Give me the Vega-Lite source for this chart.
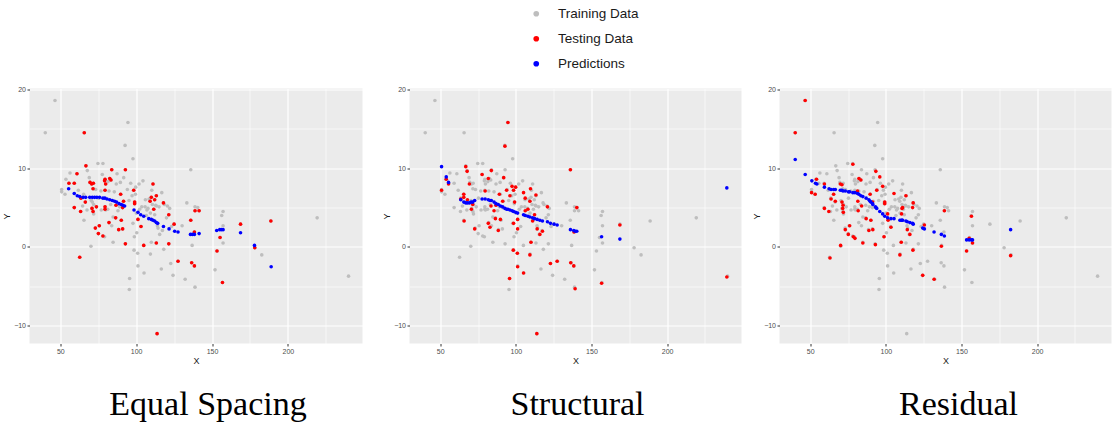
{
  "$schema": "https://vega.github.io/schema/vega-lite/v6.json",
  "padding": {"left": 2.5, "top": 6.5, "right": 0, "bottom": 0},
  "config": {
    "view": {"fill": "#ebebeb", "stroke": null},
    "axis": {"domain": false, "grid": true, "gridColor": "#ffffff", "tickColor": "#333333", "labelColor": "#4d4d4d", "labelFont": "Liberation Sans", "labelFontSize": 7, "labelPadding": 1.5, "labelOverlap": false, "titleFont": "Liberation Sans", "titleFontSize": 9, "titleFontWeight": "normal", "titleColor": "#1a1a1a", "titlePadding": 2},
    "axisX": {
      "labelExpr": "datum.value % 50 === 0 ? datum.label : ''",
      "gridWidth": {"condition": {"test": "datum.value % 50 !== 0", "value": 0.6}, "value": 1.2},
      "tickSize": {"condition": {"test": "datum.value % 50 !== 0", "value": 0}, "value": 2.5}
    },
    "axisY": {
      "labelExpr": "datum.value % 10 === 0 ? datum.label : ''",
      "gridWidth": {"condition": {"test": "datum.value % 10 !== 0", "value": 0.6}, "value": 1.2},
      "tickSize": {"condition": {"test": "datum.value % 10 !== 0", "value": 0}, "value": 2.5}
    },
    "title": {"font": "Liberation Serif", "fontSize": 34, "fontWeight": "normal", "color": "#000000", "orient": "bottom", "frame": "group", "offset": 22}
  },
  "datasets": {
    "cloud": [
      {"x":40.1,"y":14.5},{"x":46.5,"y":18.6},{"x":50.9,"y":7.3},{"x":50.9,"y":7.0},{"x":53.1,"y":6.7},{"x":53.7,"y":8.6},{"x":56.4,"y":9.4},{"x":64.7,"y":5.2},{"x":65.6,"y":3.4},{"x":67.8,"y":9.7},{"x":69.1,"y":8.8},{"x":70.2,"y":0.1},{"x":71.1,"y":5.7},{"x":72,"y":4.2},{"x":74.8,"y":10.6},{"x":78.1,"y":10.6},{"x":77.7,"y":9.2},{"x":79.2,"y":1.3},{"x":82.1,"y":7.1},{"x":83.9,"y":2.7},{"x":84.8,"y":0.6},{"x":86.9,"y":8.0},{"x":89.6,"y":8.2},{"x":91.8,"y":8.8},{"x":92.7,"y":12.9},{"x":94.6,"y":15.8},{"x":95.7,"y":-4.0},{"x":95.5,"y":-5.4},{"x":97.9,"y":11.2},{"x":98.6,"y":-0.4},{"x":98.8,"y":1.3},{"x":99.7,"y":7.6},{"x":100.4,"y":1.8},{"x":101.0,"y":-0.8},{"x":101.2,"y":-2.4},{"x":101.9,"y":8.0},{"x":104.5,"y":8.4},{"x":105.2,"y":-3.3},{"x":106.1,"y":6.0},{"x":107.1,"y":4.7},{"x":109.4,"y":-0.9},{"x":110,"y":0.6},{"x":111.1,"y":3.4},{"x":112.2,"y":4.1},{"x":113.3,"y":5.2},{"x":116.9,"y":6.9},{"x":116.6,"y":-2.8},{"x":118.2,"y":-0.3},{"x":120.6,"y":5.2},{"x":122.1,"y":4.9},{"x":122.8,"y":-2.1},{"x":124.3,"y":-3.6},{"x":130.3,"y":2.7},{"x":132.3,"y":-4.1},{"x":133.4,"y":5.6},{"x":136.0,"y":9.8},{"x":136.9,"y":0.2},{"x":138.8,"y":5.1},{"x":138.8,"y":-5.1},{"x":140.6,"y":5.0},{"x":152.0,"y":-2.9},{"x":156.4,"y":4.0},{"x":157.3,"y":4.5},{"x":157.3,"y":2.7},{"x":157.3,"y":0.5},{"x":182.8,"y":-1.0},{"x":219.3,"y":3.7},{"x":240.0,"y":-3.7},
      {"x":61.9,"y":7.2},{"x":65.4,"y":6.7},{"x":67.6,"y":4.7},{"x":70.4,"y":5.9},{"x":72,"y":5.4},{"x":73.3,"y":7.3},{"x":75.3,"y":6.2},{"x":76.8,"y":7.1},{"x":77,"y":4.7},{"x":79.9,"y":4.7},{"x":81.3,"y":4.8},{"x":81.5,"y":8.3},{"x":83.2,"y":5.4},{"x":84.8,"y":3.8},{"x":85.6,"y":7.0},{"x":87.4,"y":9.3},{"x":88,"y":4.6},{"x":89.1,"y":5.1},{"x":94.2,"y":7.3},{"x":95.3,"y":5.9},{"x":96.4,"y":8.1},{"x":97.3,"y":6.5},{"x":97.9,"y":3.0},{"x":99.5,"y":6.7},{"x":100.1,"y":4.3},{"x":102.3,"y":4.8},{"x":103.7,"y":5.1},{"x":105.9,"y":5.1},{"x":106.7,"y":4.0},{"x":107.8,"y":4.9},{"x":108.5,"y":6.1},{"x":109.4,"y":4.3},{"x":110.3,"y":7.2},{"x":110.7,"y":5.4},{"x":112.9,"y":5.3},{"x":114,"y":2.7},{"x":114.4,"y":2.4},{"x":115.1,"y":5.1},{"x":115.5,"y":1.6},{"x":117.3,"y":2.1},{"x":118.6,"y":5.4},{"x":120,"y":3.7},{"x":123.3,"y":2.6},
      {"x":65.8,"y":14.5},{"x":66.9,"y":10.3},{"x":55.7,"y":8.1},{"x":59.2,"y":8.1},{"x":61.0,"y":9.3},{"x":59.2,"y":5.0},{"x":62.8,"y":-1.3},{"x":63.6,"y":6.2},{"x":63.4,"y":4.5},{"x":66.5,"y":5.7},{"x":69.6,"y":8.2},{"x":70.7,"y":8.0},{"x":71.8,"y":8.1},{"x":71.6,"y":7.4},{"x":70.9,"y":4.9},{"x":71.6,"y":4.5},{"x":73.8,"y":5.1},{"x":73.1,"y":2.4},{"x":75.7,"y":2.7},{"x":75.1,"y":1.7},{"x":78.1,"y":1.4},{"x":79.5,"y":8.6},{"x":79.2,"y":8.4},{"x":79.9,"y":8.0},{"x":79.5,"y":7.2},{"x":79.5,"y":5.1},{"x":79.5,"y":4.8},{"x":82.1,"y":3.1},{"x":82.6,"y":8.7},{"x":83.4,"y":8.5},{"x":83.9,"y":9.8},{"x":86.7,"y":5.3},{"x":86.5,"y":3.7},{"x":88.5,"y":2.2},{"x":89.8,"y":6.7},{"x":90.2,"y":3.4},{"x":91.1,"y":5.0},{"x":91.7,"y":5.8},{"x":91.1,"y":2.3},{"x":92.9,"y":9.8},{"x":92.9,"y":0.4},{"x":98.4,"y":7.2},{"x":99.0,"y":5.7},{"x":99.0,"y":5.5},{"x":101.2,"y":3.5},{"x":103.2,"y":2.6},{"x":105,"y":0.2},{"x":109.2,"y":5.8},{"x":110,"y":6.3},{"x":111.1,"y":8.0},{"x":112.2,"y":6.0},{"x":111.6,"y":4.8},{"x":113.3,"y":6.5},{"x":113.3,"y":0.5},{"x":113.8,"y":-11.0},{"x":118,"y":5.6},{"x":121.5,"y":4.1},{"x":121.5,"y":0.4},{"x":125.0,"y":2.9},{"x":127.6,"y":-1.8},{"x":136.0,"y":3.4},{"x":136.6,"y":-2.0},{"x":138.4,"y":1.9},{"x":138.4,"y":-2.4},{"x":138.8,"y":4.6},{"x":141.5,"y":4.6},{"x":153.3,"y":-0.5},{"x":155.3,"y":1.2},{"x":156.9,"y":-4.5},{"x":168.8,"y":2.9},{"x":178.2,"y":-0.1},{"x":188.8,"y":3.3}
    ],
    "testEq": [
      {"x":65.8,"y":14.5},{"x":66.9,"y":10.3},{"x":55.7,"y":8.1},{"x":59.2,"y":8.1},{"x":61.0,"y":9.3},{"x":59.2,"y":5.0},{"x":62.8,"y":-1.3},{"x":63.6,"y":6.2},{"x":63.4,"y":4.5},{"x":66.5,"y":5.7},{"x":69.6,"y":8.2},{"x":70.7,"y":8.0},{"x":71.8,"y":8.1},{"x":71.6,"y":7.4},{"x":70.9,"y":4.9},{"x":71.6,"y":4.5},{"x":73.8,"y":5.1},{"x":73.1,"y":2.4},{"x":75.7,"y":2.7},{"x":75.1,"y":1.7},{"x":78.1,"y":1.4},{"x":79.5,"y":8.6},{"x":79.2,"y":8.4},{"x":79.9,"y":8.0},{"x":79.5,"y":7.2},{"x":79.5,"y":5.1},{"x":79.5,"y":4.8},{"x":82.1,"y":3.1},{"x":82.6,"y":8.7},{"x":83.4,"y":8.5},{"x":83.9,"y":9.8},{"x":86.7,"y":5.3},{"x":86.5,"y":3.7},{"x":88.5,"y":2.2},{"x":89.8,"y":6.7},{"x":90.2,"y":3.4},{"x":91.1,"y":5.0},{"x":91.7,"y":5.8},{"x":91.1,"y":2.3},{"x":92.9,"y":9.8},{"x":92.9,"y":0.4},{"x":98.4,"y":7.2},{"x":99.0,"y":5.7},{"x":99.0,"y":5.5},{"x":101.2,"y":3.5},{"x":103.2,"y":2.6},{"x":105,"y":0.2},{"x":109.2,"y":5.8},{"x":110,"y":6.3},{"x":111.1,"y":8.0},{"x":112.2,"y":6.0},{"x":111.6,"y":4.8},{"x":113.3,"y":6.5},{"x":113.3,"y":0.5},{"x":113.8,"y":-11.0},{"x":118,"y":5.6},{"x":121.5,"y":4.1},{"x":121.5,"y":0.4},{"x":125.0,"y":2.9},{"x":127.6,"y":-1.8},{"x":136.0,"y":3.4},{"x":136.6,"y":-2.0},{"x":138.4,"y":1.9},{"x":138.4,"y":-2.4},{"x":138.8,"y":4.6},{"x":141.5,"y":4.6},{"x":153.3,"y":-0.5},{"x":155.3,"y":1.2},{"x":156.9,"y":-4.5},{"x":168.8,"y":2.9},{"x":178.2,"y":-0.1},{"x":188.8,"y":3.3}
    ],
    "predEq": [
      {"x":55.5,"y":7.4},{"x":59.2,"y":6.8},{"x":61.2,"y":6.5},{"x":62.8,"y":6.4},{"x":65,"y":6.3},{"x":66.7,"y":6.3},{"x":69.4,"y":6.3},{"x":71.1,"y":6.3},{"x":72.6,"y":6.3},{"x":74.1,"y":6.3},{"x":75.9,"y":6.3},{"x":78.1,"y":6.2},{"x":79.4,"y":6.2},{"x":80.8,"y":6.1},{"x":82.6,"y":6.0},{"x":84.3,"y":5.9},{"x":85.8,"y":5.8},{"x":87.1,"y":5.7},{"x":88.7,"y":5.5},{"x":90.2,"y":5.4},{"x":91.3,"y":5.3},{"x":92.4,"y":5.2},{"x":98.6,"y":4.7},{"x":101.2,"y":4.4},{"x":103,"y":4.1},{"x":105,"y":3.9},{"x":108.3,"y":3.6},{"x":110,"y":3.5},{"x":111.1,"y":3.4},{"x":112.2,"y":3.3},{"x":113.3,"y":3.1},{"x":114.2,"y":3.0},{"x":118,"y":2.6},{"x":121.7,"y":2.3},{"x":125.4,"y":2.0},{"x":127.6,"y":1.9},{"x":135.8,"y":1.6},{"x":137.1,"y":1.6},{"x":138.4,"y":1.6},{"x":141.5,"y":1.7},{"x":153.1,"y":2.1},{"x":155.1,"y":2.2},{"x":156.2,"y":2.2},{"x":157.3,"y":2.2},{"x":168.8,"y":1.8},{"x":178,"y":0.2},{"x":189,"y":-2.5}
    ],
    "testSt": [
      {"x":50.9,"y":7.2},{"x":54,"y":8.6},{"x":55.5,"y":8.0},{"x":63.6,"y":6.1},{"x":65.6,"y":6.7},{"x":65.6,"y":6.3},{"x":65.8,"y":3.3},{"x":66.9,"y":10.2},{"x":67.8,"y":9.6},{"x":68,"y":6.0},{"x":69.3,"y":8.0},{"x":70.6,"y":4.8},{"x":71.5,"y":5.4},{"x":72.8,"y":2.3},{"x":77.7,"y":9.2},{"x":79.7,"y":7.1},{"x":81.8,"y":8.7},{"x":81.8,"y":3.0},{"x":82.9,"y":2.5},{"x":83.6,"y":5.2},{"x":83.8,"y":9.7},{"x":85.6,"y":4.6},{"x":86.5,"y":3.6},{"x":86.9,"y":5.3},{"x":88.4,"y":2.1},{"x":89.1,"y":6.7},{"x":89.8,"y":3.5},{"x":91.3,"y":5.8},{"x":92,"y":8.8},{"x":92.8,"y":12.8},{"x":93.9,"y":7.2},{"x":94.8,"y":15.8},{"x":95.9,"y":-4.0},{"x":96.1,"y":6.5},{"x":97.5,"y":7.7},{"x":98.3,"y":-0.4},{"x":98.5,"y":7.2},{"x":98.5,"y":3.0},{"x":99.2,"y":5.7},{"x":99.9,"y":7.6},{"x":101,"y":-0.8},{"x":101.2,"y":2.3},{"x":101.2,"y":-2.5},{"x":101.2,"y":3.5},{"x":105.1,"y":6.9},{"x":105.1,"y":-3.3},{"x":106.2,"y":6.2},{"x":106.2,"y":4.6},{"x":108,"y":4.8},{"x":109.3,"y":5.8},{"x":109.3,"y":-1.0},{"x":109.7,"y":7.4},{"x":110,"y":0.6},{"x":111.1,"y":3.3},{"x":112.4,"y":4.1},{"x":113.3,"y":6.6},{"x":113.9,"y":-11.0},{"x":114.1,"y":2.3},{"x":115.9,"y":1.6},{"x":117.6,"y":2.0},{"x":120.9,"y":5.1},{"x":122.9,"y":-2.1},{"x":127.3,"y":-1.8},{"x":136.1,"y":9.8},{"x":136.3,"y":-2.0},{"x":138.3,"y":-2.4},{"x":138.5,"y":1.9},{"x":139.2,"y":-5.3},{"x":140.3,"y":5.0},{"x":156.7,"y":-4.6},{"x":168.8,"y":2.8},{"x":239.5,"y":-3.8}
    ],
    "predSt": [
      {"x":50.9,"y":10.2},{"x":54,"y":8.9},{"x":55.5,"y":8.2},{"x":63.6,"y":6.0},{"x":65.6,"y":5.7},{"x":66.9,"y":5.6},{"x":68,"y":5.6},{"x":69.3,"y":5.6},{"x":70.4,"y":5.7},{"x":71.5,"y":5.7},{"x":72.8,"y":5.9},{"x":77.7,"y":6.1},{"x":79.7,"y":6.1},{"x":81.8,"y":6.0},{"x":82.9,"y":5.9},{"x":83.8,"y":5.9},{"x":85.6,"y":5.7},{"x":86.9,"y":5.5},{"x":88.4,"y":5.4},{"x":89.8,"y":5.2},{"x":91.3,"y":5.1},{"x":92.8,"y":4.9},{"x":93.9,"y":4.8},{"x":94.8,"y":4.8},{"x":96.1,"y":4.7},{"x":97.5,"y":4.6},{"x":98.5,"y":4.5},{"x":99.9,"y":4.4},{"x":101.2,"y":4.3},{"x":105.1,"y":4.1},{"x":106.2,"y":4.0},{"x":108,"y":3.9},{"x":109.3,"y":3.8},{"x":111.1,"y":3.7},{"x":112.4,"y":3.6},{"x":114.1,"y":3.5},{"x":115.9,"y":3.4},{"x":117.6,"y":3.3},{"x":120.9,"y":3.2},{"x":122.9,"y":3.0},{"x":125.3,"y":2.9},{"x":127.3,"y":2.8},{"x":136.1,"y":2.2},{"x":138.3,"y":2.1},{"x":139.2,"y":2.0},{"x":140.3,"y":2.0},{"x":156.7,"y":1.3},{"x":168.8,"y":1.0},{"x":239.5,"y":7.5}
    ],
    "testRe": [
      {"x":40.1,"y":14.5},{"x":46.7,"y":18.6},{"x":50.9,"y":6.9},{"x":53.3,"y":6.7},{"x":54.2,"y":8.6},{"x":59.4,"y":8.0},{"x":59.4,"y":4.9},{"x":62.3,"y":4.5},{"x":63.1,"y":-1.4},{"x":63.8,"y":6.1},{"x":65.5,"y":6.7},{"x":66.6,"y":5.8},{"x":70.1,"y":0.2},{"x":69.9,"y":8.0},{"x":71,"y":7.9},{"x":71,"y":5.7},{"x":71.7,"y":5.3},{"x":71.5,"y":4.9},{"x":71.9,"y":4.4},{"x":73.2,"y":2.2},{"x":75.2,"y":1.6},{"x":76.1,"y":2.7},{"x":78.2,"y":10.5},{"x":78.5,"y":1.3},{"x":79.6,"y":1.1},{"x":81.3,"y":7.1},{"x":81.5,"y":5.8},{"x":81.7,"y":4.6},{"x":82.2,"y":8.7},{"x":83.5,"y":8.5},{"x":84,"y":5.2},{"x":84.8,"y":0.5},{"x":87,"y":3.6},{"x":88.8,"y":2.1},{"x":89.6,"y":6.7},{"x":90.1,"y":3.4},{"x":91.2,"y":5.7},{"x":91.4,"y":2.2},{"x":93.1,"y":0.3},{"x":93.4,"y":9.6},{"x":94,"y":7.2},{"x":96,"y":8.9},{"x":97.9,"y":7.7},{"x":98.8,"y":1.3},{"x":99.3,"y":5.7},{"x":99.3,"y":5.5},{"x":101.2,"y":4.2},{"x":101.5,"y":3.4},{"x":103.4,"y":2.5},{"x":105.4,"y":6.8},{"x":109.3,"y":-1.0},{"x":110.2,"y":0.6},{"x":110.7,"y":4.9},{"x":111.1,"y":5.0},{"x":110.4,"y":4.2},{"x":113.3,"y":6.5},{"x":114.2,"y":2.2},{"x":115.9,"y":1.6},{"x":117.7,"y":5.0},{"x":118.1,"y":5.6},{"x":117.9,"y":-0.4},{"x":124.4,"y":-3.6},{"x":125.5,"y":2.8},{"x":131.9,"y":-4.1},{"x":136.7,"y":0.1},{"x":138.7,"y":4.6},{"x":153.4,"y":-0.5},{"x":155.1,"y":1.1},{"x":156.6,"y":3.9},{"x":157.3,"y":0.5},{"x":182.5,"y":-1.1}
    ],
    "predRe": [
      {"x":40.1,"y":11.1},{"x":46.7,"y":9.2},{"x":51.1,"y":8.4},{"x":53.5,"y":8.1},{"x":54.4,"y":8.0},{"x":59.4,"y":7.6},{"x":62.5,"y":7.4},{"x":63.8,"y":7.3},{"x":65.5,"y":7.3},{"x":66.6,"y":7.3},{"x":69.9,"y":7.2},{"x":71,"y":7.2},{"x":71.7,"y":7.1},{"x":73.2,"y":7.1},{"x":75.2,"y":7.0},{"x":76.1,"y":7.0},{"x":78.2,"y":6.9},{"x":79.6,"y":6.9},{"x":81.3,"y":6.8},{"x":82.2,"y":6.7},{"x":83.5,"y":6.5},{"x":84.8,"y":6.4},{"x":87,"y":6.2},{"x":88.8,"y":6.0},{"x":89.6,"y":5.8},{"x":90.1,"y":5.7},{"x":91.2,"y":5.5},{"x":91.4,"y":5.4},{"x":93.1,"y":5.1},{"x":93.4,"y":5.0},{"x":94,"y":4.9},{"x":96,"y":4.5},{"x":97.9,"y":4.2},{"x":99.3,"y":3.9},{"x":101.2,"y":3.7},{"x":103.4,"y":3.6},{"x":105.4,"y":3.6},{"x":109.3,"y":3.4},{"x":110.2,"y":3.4},{"x":110.7,"y":3.4},{"x":111.1,"y":3.4},{"x":113.3,"y":3.3},{"x":114.2,"y":3.2},{"x":115.9,"y":3.1},{"x":117.7,"y":3.0},{"x":118.1,"y":2.9},{"x":124.4,"y":2.4},{"x":125.5,"y":2.3},{"x":131.9,"y":1.9},{"x":136.7,"y":1.6},{"x":138.7,"y":1.4},{"x":153.4,"y":0.9},{"x":155.1,"y":0.9},{"x":156.6,"y":0.9},{"x":157.3,"y":0.9},{"x":182.5,"y":2.2}
    ]
  },
  "bounds": "flush",
  "spacing": 47,
  "hconcat": [
    {
      "width": 333, "height": 255,
      "title": {"text": "Equal Spacing", "dx": 12},
      "layer": [
        {"data": {"name": "cloud"}, "mark": {"type": "circle", "size": 13, "opacity": 1},
         "encoding": {
           "x": {"field": "x", "type": "quantitative", "scale": {"domain": [29.7, 249.2], "nice": false, "zero": false}, "axis": {"title": "X", "values": [50, 75, 100, 125, 150, 175, 200, 225]}},
           "y": {"field": "y", "type": "quantitative", "scale": {"domain": [-12.25, 20.12], "nice": false, "zero": false}, "axis": {"title": "Y", "values": [-10, -5, 0, 5, 10, 15, 20]}},
           "color": {"datum": "Training Data", "type": "nominal", "scale": {"domain": ["Training Data", "Testing Data", "Predictions"], "range": ["#bebebe", "#ff0000", "#0000ff"]},
             "legend": {"orient": "none", "legendX": 500, "legendY": -81.5, "title": null, "padding": 0, "labelFont": "Liberation Sans", "labelFontSize": 13.5, "labelColor": "#1a1a1a", "symbolSize": 32, "symbolType": "circle", "rowPadding": 10, "labelOffset": 15, "direction": "vertical"}}
         }},
        {"data": {"name": "testEq"}, "mark": {"type": "circle", "size": 13, "opacity": 1},
         "encoding": {
           "x": {"field": "x", "type": "quantitative"},
           "y": {"field": "y", "type": "quantitative"},
           "color": {"datum": "Testing Data", "type": "nominal"}
         }},
        {"data": {"name": "predEq"}, "mark": {"type": "circle", "size": 13, "opacity": 1},
         "encoding": {
           "x": {"field": "x", "type": "quantitative"},
           "y": {"field": "y", "type": "quantitative"},
           "color": {"datum": "Predictions", "type": "nominal"}
         }}
      ]
    },
    {
      "bounds": "flush",
      "spacing": 38,
      "hconcat": [
        {
          "width": 332, "height": 255,
          "title": {"text": "Structural", "dx": 2},
          "layer": [
            {"data": {"name": "cloud"}, "mark": {"type": "circle", "size": 13, "opacity": 1},
             "encoding": {
               "x": {"field": "x", "type": "quantitative", "scale": {"domain": [29.7, 249.2], "nice": false, "zero": false}, "axis": {"title": "X", "values": [50, 75, 100, 125, 150, 175, 200, 225]}},
               "y": {"field": "y", "type": "quantitative", "scale": {"domain": [-12.25, 20.12], "nice": false, "zero": false}, "axis": {"title": "Y", "values": [-10, -5, 0, 5, 10, 15, 20]}},
               "color": {"datum": "Training Data", "type": "nominal"}
             }},
            {"data": {"name": "testSt"}, "mark": {"type": "circle", "size": 13, "opacity": 1},
             "encoding": {
               "x": {"field": "x", "type": "quantitative"},
               "y": {"field": "y", "type": "quantitative"},
               "color": {"datum": "Testing Data", "type": "nominal"}
             }},
            {"data": {"name": "predSt"}, "mark": {"type": "circle", "size": 13, "opacity": 1},
             "encoding": {
               "x": {"field": "x", "type": "quantitative"},
               "y": {"field": "y", "type": "quantitative"},
               "color": {"datum": "Predictions", "type": "nominal"}
             }}
          ]
        },
        {
          "width": 332, "height": 255,
          "title": {"text": "Residual", "dx": 13},
          "layer": [
            {"data": {"name": "cloud"}, "mark": {"type": "circle", "size": 13, "opacity": 1},
             "encoding": {
               "x": {"field": "x", "type": "quantitative", "scale": {"domain": [29.7, 249.2], "nice": false, "zero": false}, "axis": {"title": "X", "values": [50, 75, 100, 125, 150, 175, 200, 225]}},
               "y": {"field": "y", "type": "quantitative", "scale": {"domain": [-12.25, 20.12], "nice": false, "zero": false}, "axis": {"title": "Y", "values": [-10, -5, 0, 5, 10, 15, 20]}},
               "color": {"datum": "Training Data", "type": "nominal"}
             }},
            {"data": {"name": "testRe"}, "mark": {"type": "circle", "size": 13, "opacity": 1},
             "encoding": {
               "x": {"field": "x", "type": "quantitative"},
               "y": {"field": "y", "type": "quantitative"},
               "color": {"datum": "Testing Data", "type": "nominal"}
             }},
            {"data": {"name": "predRe"}, "mark": {"type": "circle", "size": 13, "opacity": 1},
             "encoding": {
               "x": {"field": "x", "type": "quantitative"},
               "y": {"field": "y", "type": "quantitative"},
               "color": {"datum": "Predictions", "type": "nominal"}
             }}
          ]
        }
      ]
    }
  ]
}
